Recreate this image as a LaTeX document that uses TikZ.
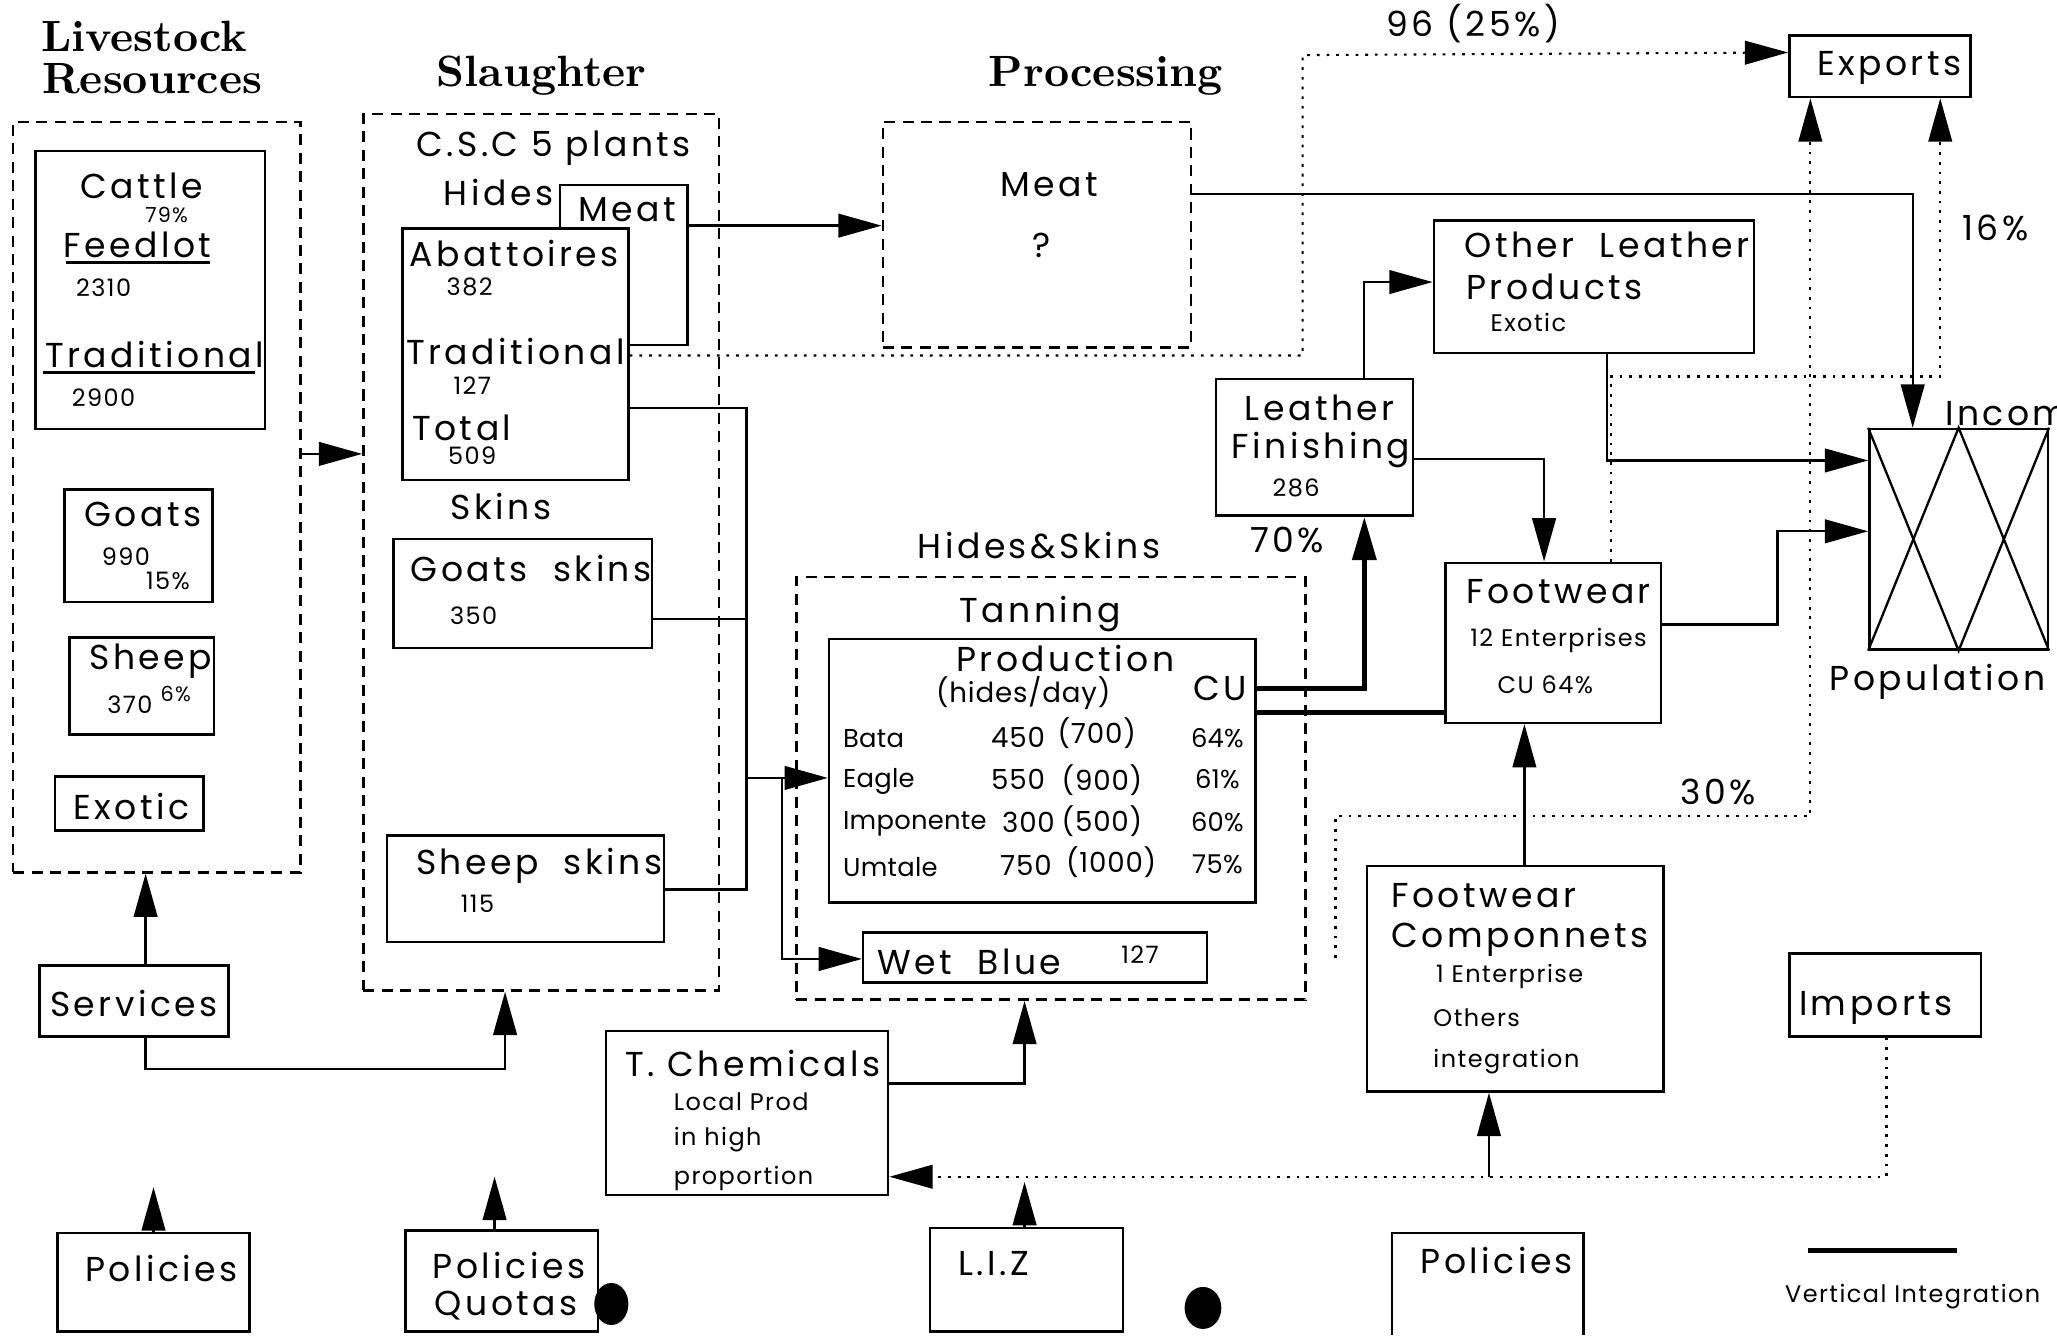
\documentclass[tikz,border=0pt]{standalone}
\usepackage{fontspec}
\usetikzlibrary{arrows.meta,fit,calc,shapes.geometric}
\newfontfamily\gothic[LetterSpace=10]{Poppins}
\newfontfamily\gothicnum[LetterSpace=3]{Poppins}
\newfontfamily\gothicsm[LetterSpace=6]{Poppins}
\newfontfamily\gothicrow[LetterSpace=1]{Poppins}

\tikzset{
  box/.style={draw, line width=0.55pt, inner sep=0pt},
  dbox/.style={draw, line width=0.55pt, inner sep=0pt, dash pattern=on 2.4pt off 1.6pt},
  wire/.style={line width=0.5pt},
  vint/.style={line width=1.1pt},
  dots/.style={line width=0.45pt, dash pattern=on 0.6pt off 1.5pt},
  arr/.style={-{Triangle[length=3.3mm,width=1.8mm]}},
  lab/.style={font=\gothic\fontsize{7.5}{9}\selectfont, inner sep=0pt},
  sm/.style={font=\gothicsm\fontsize{5.2}{6}\selectfont, inner sep=0pt},
  tiny/.style={font=\gothicsm\fontsize{4.5}{5}\selectfont, inner sep=0pt},
  head/.style={font=\bfseries\fontsize{9.5}{11}\selectfont, inner sep=0pt},
  tab/.style={font=\gothicnum\fontsize{6}{7}\selectfont, inner sep=0pt},
  tabb/.style={font=\gothicrow\fontsize{5.6}{7}\selectfont, inner sep=0pt},
}

\begin{document}
\begin{tikzpicture}[x=0.1mm,y=-0.1mm]
\useasboundingbox (0,0) rectangle (1568,1018);
\fill[white] (0,0) rectangle (1568,1018);
\clip (0,0) rectangle (1568,1018);

% ---------- headings ----------
\node[head] (hliv1) at (110,28) {Livestock};
\node[head] (hliv2) at (116,60) {Resources};
\node[head] (hsl) at (413,58) {Slaughter};
\node[head] (hpr) at (843,58) {Processing};

% ---------- livestock resources ----------
\node[dbox, fit={(10,93) (229,665)}] (liv) {};
\node[box, fit={(27,115) (202,327)}] (cattle) {};
\node[lab] (tcattle) at (108,142) {Cattle};
\node[tiny] (tc79) at (127,164) {79\%};
\node[lab] (tfeed) at (105,187) {Feedlot};
\coordinate (ul1a) at (50,200); \coordinate (ul1b) at (160,200);
\draw[wire] (ul1a) -- (ul1b);
\node[sm] (t2310) at (79,219) {2310};
\node[lab] (ttrad) at (118,270) {Traditional};
\coordinate (ul2a) at (33,284); \coordinate (ul2b) at (194,284);
\draw[wire] (ul2a) -- (ul2b);
\node[sm] (t2900) at (79,303) {2900};

\node[box, fit={(49,373) (162,459)}] (goats) {};
\node[lab] (tgoats) at (109,392) {Goats};
\node[sm] (t990) at (96,424) {990};
\node[sm] (t15) at (128,443) {15\%};

\node[box, fit={(53,486) (163,560)}] (sheep) {};
\node[lab] (tsheep) at (115,504) {Sheep};
\node[sm] (t370) at (99,537) {370};
\node[tiny] (t6) at (134,529) {6\%};

\node[box, fit={(42,592) (155,633)}] (exotic) {};
\node[lab] (texotic) at (100,615) {Exotic};

\node[box, fit={(30,736) (174,790)}] (serv) {};
\node[lab] (tserv) at (102,765) {Services};

% ---------- slaughter ----------
\node[dbox, fit={(277,87) (548,755)}] (sl) {};
\node[lab] (tcsc) at (422,113) {C.S.C 5 plants};
\node[lab] (thides) at (380,147) {Hides};
\node[box, fit={(427,141) (524,263)}] (meatsm) {};
\node[lab] (tmeatsm) at (478,160) {Meat};
\node[box, fill=white, fit={(307,174) (479,366)}] (abatt) {};
\node[lab] (tabatt) at (392,193) {Abattoires};
\node[sm] (t382) at (358,219) {382};
\node[lab] (ttrad2) at (393,268) {Traditional};
\node[sm] (t127) at (360,294) {127};
\node[lab] (ttotal) at (352,326) {Total};
\node[sm] (t509) at (360,347) {509};
\node[lab] (tskins) at (382,386) {Skins};
\node[box, fit={(300,411) (497,494)}] (goatsk) {};
\node[lab] (tgoatsk) at (405,433) {Goats\ \ skins};
\node[sm] (t350) at (361,469) {350};
\node[box, fit={(295,637) (506,718)}] (sheepsk) {};
\node[lab] (tsheepsk) at (411,660) {Sheep\ \ skins};
\node[sm] (t115) at (364,689) {115};

% ---------- processing ----------
\node[dbox, fit={(673,93) (908,265)}] (meatp) {};
\node[lab] (tmeatp) at (800,141) {Meat};
\node[lab] (tq) at (794,187) {?};

% ---------- hides & skins / tanning ----------
\node[lab] (ths) at (792,416) {Hides\&Skins};
\node[dbox, fit={(607,440) (995,762)}] (hs) {};
\node[lab] (ttan) at (793,468) {Tanning};
\node[box, fit={(632,487) (957,688)}] (prod) {};
\node[lab] (tprod) at (812,502) {Production};
\node[tab] (thd) at (780,528) {(hides/day)};
\node[lab] (tcu) at (930,525) {CU};
\node[tabb, anchor=west] (r1a) at (642,563) {Bata};
\node[tab] (r1b) at (776,562) {450};
\node[tab] (r1c) at (836,559) {(700)};
\node[tabb] (r1d) at (928,563) {64\%};
\node[tabb, anchor=west] (r2a) at (642,596) {Eagle};
\node[tab] (r2b) at (776,594) {550};
\node[tab] (r2c) at (840,595) {(900)};
\node[tabb] (r2d) at (928,594) {61\%};
\node[tabb, anchor=west] (r3a) at (642,628) {Imponente};
\node[tab] (r3b) at (784,627) {300};
\node[tab] (r3c) at (840,626) {(500)};
\node[tabb] (r3d) at (928,627) {60\%};
\node[tabb, anchor=west] (r4a) at (642,661) {Umtale};
\node[tab] (r4b) at (782,660) {750};
\node[tab] (r4c) at (847,657) {(1000)};
\node[tabb] (r4d) at (928,659) {75\%};
\node[box, fit={(658,711) (920,749)}] (wet) {};
\node[lab] (twet) at (739,733) {Wet\ \ Blue};
\node[sm] (twet127) at (869,728) {127};

% ---------- chemicals ----------
\node[box, fit={(462,786) (677,911)}] (chem) {};
\node[lab] (tchem) at (574,811) {T.\ Chemicals};
\node[sm, anchor=west] (tchem1) at (513,840) {Local Prod};
\node[sm, anchor=west] (tchem2) at (513,869) {in high};
\node[sm, anchor=west] (tchem3) at (513,898) {proportion};

% ---------- leather and footwear ----------
\node[box, fit={(927,289) (1077,393)}] (lf) {};
\node[lab] (tlf1) at (1006,311) {Leather};
\node[lab] (tlf2) at (1007,343) {Finishing};
\node[sm] (t286) at (988,372) {286};
\node[box, fit={(1093,168) (1337,269)}] (olp) {};
\node[lab] (tolp1) at (1225,187) {Other\ \ Leather};
\node[lab] (tolp2) at (1185,219) {Products};
\node[sm] (tolp3) at (1165,246) {Exotic};
\node[box, fit={(1102,429) (1266,551)}] (fw) {};
\node[lab] (tfw) at (1188,451) {Footwear};
\node[sm] (tfw2) at (1188,488) {12 Enterprises};
\node[sm] (tfw3) at (1178,522) {CU 64\%};
\node[box, fit={(1042,660) (1268,832)}] (fc) {};
\node[lab, anchor=west] (tfc1) at (1060,683) {Footwear};
\node[lab, anchor=west] (tfc2) at (1060,716) {Componnets};
\node[sm, anchor=west] (tfc3) at (1094,744) {1 Enterprise};
\node[sm, anchor=west] (tfc4) at (1092,776) {Others};
\node[sm, anchor=west] (tfc5) at (1092,809) {integration};

% ---------- markets ----------
\node[box, fit={(1364,27) (1502,74)}] (exp) {};
\node[lab] (texp) at (1440,52) {Exports};
\node[box, fit={(1425,327) (1561,495)}] (pop) {};
\coordinate (popbm) at ($(pop.south west)!0.5!(pop.south east)$);
\coordinate (poptm) at ($(pop.north west)!0.5!(pop.north east)$);
\draw[wire] (pop.north west) -- (popbm) -- (pop.north east);
\draw[wire] (pop.south west) -- (poptm) -- (pop.south east);
\node[lab] (tpop) at (1477,520) {Population};
\node[lab, anchor=west] (tinc) at (1482,315) {Income};
\node[box, fit={(1364,727) (1510,790)}] (imp) {};
\node[lab] (timp) at (1430,768) {Imports};

% ---------- policies ----------
\node[box, fit={(44,940) (190,1015)}] (pol1) {};
\node[lab] (tpol1) at (123,967) {Policies};
\node[box, fit={(309,938) (456,1015)}] (polq) {};
\node[lab] (tpolq1) at (388,965) {Policies};
\node[lab] (tpolq2) at (386,995) {Quotas};
\node[fill, ellipse, minimum width=2.6mm, minimum height=3.2mm, inner sep=0pt] (dot1) at (466,994) {};
\node[box, fit={(709,936) (856,1015)}] (liz) {};
\node[lab, anchor=west] (tliz) at (730,963) {L.I.Z};
\node[fill, ellipse, minimum width=2.8mm, minimum height=3.2mm, inner sep=0pt] (dot2) at (917,997) {};
\coordinate (pol2a) at (1061,1018); \coordinate (pol2b) at (1061,940);
\coordinate (pol2c) at (1207,940); \coordinate (pol2d) at (1207,1018);
\draw[line width=0.55pt] (pol2a) -- (pol2b) -- (pol2c) -- (pol2d);
\node[lab] (tpol2) at (1141,961) {Policies};

% ---------- legend ----------
\coordinate (leg1) at (1378,953); \coordinate (leg2) at (1492,953);
\draw[vint] (leg1) -- (leg2);
\node[sm] (tleg) at (1458,988) {Vertical Integration};

% ---------- flow labels ----------
\node[lab] (l96) at (1123,18) {96 (25\%)};
\node[lab] (l16) at (1521,174) {16\%};
\node[lab] (l70) at (981,412) {70\%};
\node[lab] (l30) at (1310,604) {30\%};

% ---------- connectors ----------
\draw[wire, arr] (liv.east |- 0,346) -- (sl.west |- 0,346);
\draw[wire, arr] (serv.north -| 111,0) -- (liv.south -| 111,0);
\draw[wire, arr] (serv.south -| 111,0) -- (111,815) -- (385,815) -- (sl.south -| 385,0);
\coordinate (pol1tip) at (117,905);
\draw[wire, arr] (pol1.north -| 117,0) -- (pol1tip);
\coordinate (polqtip) at (377,897);
\draw[wire, arr] (polq.north -| 377,0) -- (polqtip);
\coordinate (liztip) at (781,901);
\draw[wire, arr] (liz.north -| 781,0) -- (liztip);

\draw[wire, arr] (meatsm.east |- 0,172) -- (meatp.west |- 0,172);
\draw[dots, arr] (abatt.east |- 0,271) -- (993,271) -- (993,42) -- (exp.west |- 0,40);

\draw[wire] (abatt.east |- 0,311) -- (569,311) -- (569,678) -- (sheepsk.east |- 0,678);
\draw[wire] (goatsk.east |- 0,472) -- (569,472);
\coordinate (jn) at (569,593);
\draw[wire, arr] (jn) -- (prod.west |- 0,593);
\coordinate (jn2) at (596,593);
\draw[wire, arr] (jn2) -- (596,731) -- (wet.west |- 0,731);

\draw[vint, arr] (prod.east |- 0,525) -- (1040,525) -- (lf.south -| 1040,0);
\draw[vint] (prod.east |- 0,543) -- (fw.west |- 0,543);
\draw[wire, arr] (chem.east |- 0,826) -- (781,826) -- (hs.south -| 781,0);

\draw[dots, arr] (imp.south -| 1438,0) -- (1438,897) -- (chem.east |- 0,897);
\coordinate (fcin) at (1135,897);
\draw[wire, arr] (fcin) -- (fc.south -| 1135,0);
\draw[wire, arr] (fc.north -| 1162,0) -- (fw.south -| 1162,0);

\draw[wire, arr] (lf.north -| 1040,0) -- (1040,215) -- (olp.west |- 0,215);
\draw[wire, arr] (lf.east |- 0,350) -- (1177,350) -- (fw.north -| 1177,0);
\draw[wire, arr] (olp.south -| 1225,0) -- (1225,351) -- (pop.west |- 0,351);
\draw[wire, arr] (fw.east |- 0,476) -- (1355,476) -- (1355,405) -- (pop.west |- 0,405);
\draw[wire, arr] (meatp.east |- 0,148) -- (1458,148) -- (pop.north -| 1458,0);

\draw[dots, arr] (fw.north -| 1228,0) -- (1228,287) -- (1479,287) -- (exp.south -| 1479,0);
\coordinate (fcout) at (1018,730);
\draw[dots, arr] (fcout) -- (1018,622) -- (1380,622) -- (exp.south -| 1380,0);
\end{tikzpicture}
\end{document}
